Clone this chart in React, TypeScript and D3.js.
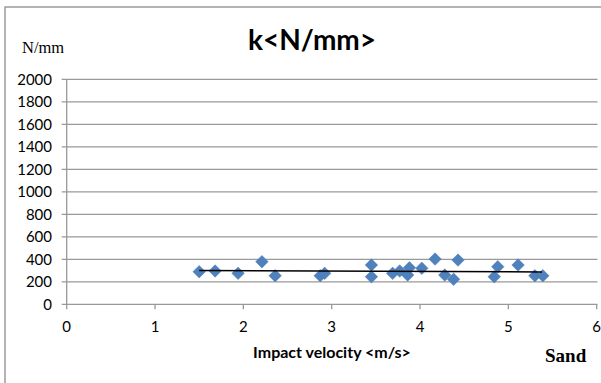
import React from "react";
import * as d3 from "d3";

const velocity = [1.5, 1.68, 1.94, 2.21, 2.36, 2.87, 2.92, 3.45, 3.45, 3.69, 3.77, 3.86, 3.88, 4.02, 4.17, 4.28, 4.38, 4.43, 4.84, 4.88, 5.11, 5.3, 5.39];
const stiffness = [290, 296, 275, 379, 254, 254, 275, 349, 245, 275, 296, 260, 325, 320, 402, 260, 222, 393, 245, 334, 349, 254, 254];
const trendX = [1.5, 5.38];
const trendY = [300, 288];
const xTicks = [0, 1, 2, 3, 4, 5, 6];
const yTicks = [0, 200, 400, 600, 800, 1000, 1200, 1400, 1600, 1800, 2000];

const W = 601;
const H = 383;
const left = 66.7;
const right = 597.5;
const top = 79.3;
const bottom = 304.3;

export default function App() {
  const x = d3.scaleLinear().domain([0, 6]).range([left, 596.7]);
  const y = d3.scaleLinear().domain([0, 2000]).range([bottom, top]);
  const diamond = d3.symbol().type(d3.symbolDiamond2).size(100)();
  const line = d3.line<number>().x((_, i) => x(trendX[i])).y((_, i) => y(trendY[i]));
  const sans = "Lato, 'Open Sans', sans-serif";
  return (
    <svg width={W} height={H} style={{ position: "absolute", left: 0, top: 0, background: "#fff" }}>
      <rect x={5} y={7} width={700} height={500} fill="#fff" stroke="#8c8c8c" strokeWidth={1.3} />
      <text x={312} y={50} textAnchor="middle" fontFamily={sans} fontWeight="bold" fontSize={28} fill="#000">k&lt;N/mm&gt;</text>
      <text x={22} y={53} fontFamily="'Liberation Serif', 'Times New Roman', serif" fontSize={16.5} fill="#000">N/mm</text>
      {yTicks.map((t) => (
        <g key={"y" + t}>
          <line x1={left - 5} x2={right} y1={y(t)} y2={y(t)} stroke="#999" strokeWidth={1.3} />
          <text x={52} y={y(t) + 5.3} textAnchor="end" fontFamily={sans} fontSize={15} fill="#000">{t}</text>
        </g>
      ))}
      <line x1={left} x2={left} y1={top} y2={bottom} stroke="#999" strokeWidth={1.3} />
      {xTicks.map((t) => (
        <g key={"x" + t}>
          <line x1={x(t)} x2={x(t)} y1={bottom} y2={bottom + 5} stroke="#999" strokeWidth={1.3} />
          <text x={x(t)} y={332} textAnchor="middle" fontFamily={sans} fontSize={15} fill="#000">{t}</text>
        </g>
      ))}
      {velocity.map((v, i) => (
        <path key={"p" + i} d={diamond} transform={`translate(${x(v)},${y(stiffness[i])})`} fill="#4f81bd" stroke="#4a7ab5" strokeWidth={0.5} />
      ))}
      <path d={line(trendX) || ""} fill="none" stroke="#000" strokeWidth={1.5} />
      <text x={332} y={358} textAnchor="middle" fontFamily={sans} fontWeight="bold" fontSize={16} fill="#000">Impact velocity &lt;m/s&gt;</text>
      <text x={545} y={362} fontFamily="'Liberation Serif', 'Times New Roman', serif" fontWeight="bold" fontSize={19} fill="#000">Sand</text>
    </svg>
  );
}
